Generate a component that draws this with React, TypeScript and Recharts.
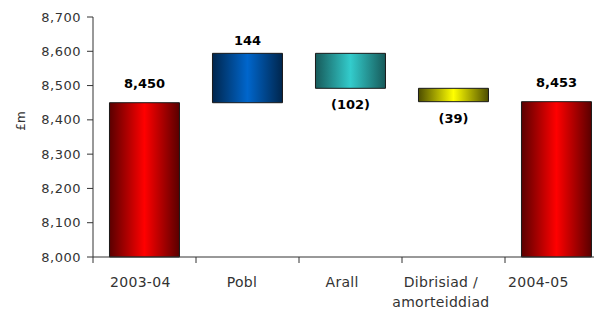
import { Bar, BarChart, Cell, LabelList, XAxis, YAxis } from "recharts";

const categories = ["2003-04", "Pobl", "Arall", "Dibrisiad /\namorteiddiad", "2004-05"];
const steps = [8450, 144, -102, -39, 8453];
const isTotal = [true, false, false, false, true];
const yTicks = [8000, 8100, 8200, 8300, 8400, 8500, 8600, 8700];
const gradients = [
  { id: "gRed", edge: "#5a0000", mid: "#ff0000" },
  { id: "gBlue", edge: "#00264d", mid: "#0066cc" },
  { id: "gCyan", edge: "#175a5a", mid: "#33cccc" },
  { id: "gYellow", edge: "#4d4d00", mid: "#ffff00" },
];
const barFill = ["gRed", "gBlue", "gCyan", "gYellow", "gRed"];

const Y_MIN = yTicks[0];
const FONT = "'DejaVu Sans', sans-serif";

const CHART_W = 602;
const MARGIN = { top: 9, right: 2, bottom: 7, left: 4 };
const Y_AXIS_W = 81;
const BAND = (CHART_W - MARGIN.left - MARGIN.right - Y_AXIS_W) / categories.length;

const fmt = (v: number) => {
  const s = Math.abs(v).toLocaleString("en-GB");
  return v < 0 ? `(${s})` : s;
};

let running = 0;
const rows = categories.map((name, i) => {
  const v = steps[i];
  let range: [number, number];
  if (isTotal[i]) {
    range = [Y_MIN, v];
    running = v;
  } else {
    const next = running + v;
    range = [Math.min(running, next), Math.max(running, next)];
    running = next;
  }
  return { name, range, label: fmt(v), neg: v < 0, total: isTotal[i] };
});

function CategoryTick(props: any) {
  const { x, y, payload, index } = props;
  // the original squeezes labels slightly left toward the cut-off right edge
  const p = index + 0.5;
  const lx = x - (4 + 0.7 * p * p);
  const lines = String(payload.value).split("\n");
  const bx = x - BAND / 2;
  return (
    <g>
      <line x1={bx} x2={bx} y1={y} y2={y + 6} stroke="#333" />
      <text x={lx} y={y + 30} textAnchor="middle" fontFamily={FONT} fontSize={14} letterSpacing={0.3} fill="#333">
        {lines.map((l, k) => (
          <tspan key={k} x={lx} dy={k === 0 ? 0 : 20}>
            {l}
          </tspan>
        ))}
      </text>
    </g>
  );
}

function ValueLabel(props: any) {
  const { x, y, width, height, value, index } = props;
  const r = rows[index];
  const ty = r.neg ? y + height + 21 : y - (r.total ? 15 : 8);
  return (
    <text x={x + width / 2} y={ty} textAnchor="middle" fontFamily={FONT} fontWeight="bold" fontSize={13} fill="#000">
      {value}
    </text>
  );
}

export default function App() {
  return (
    <div style={{ width: 594, height: 306, overflow: "hidden" }}>
      <BarChart width={CHART_W} height={306} data={rows} margin={MARGIN} barCategoryGap="16%">
        <defs>
          {gradients.map((g) => (
            <linearGradient key={g.id} id={g.id} x1="0" y1="0" x2="1" y2="0">
              <stop offset="0%" stopColor={g.edge} />
              <stop offset="50%" stopColor={g.mid} />
              <stop offset="100%" stopColor={g.edge} />
            </linearGradient>
          ))}
        </defs>
        <XAxis
          dataKey="name"
          interval={0}
          height={50}
          tickLine={false}
          tickSize={0}
          tickMargin={0}
          axisLine={{ stroke: "#333" }}
          tick={<CategoryTick />}
        />
        <YAxis
          domain={[Y_MIN, yTicks[yTicks.length - 1]]}
          ticks={yTicks}
          interval={0}
          width={Y_AXIS_W}
          tickSize={6}
          tickMargin={6}
          axisLine={{ stroke: "#333" }}
          tickLine={{ stroke: "#333" }}
          tick={{ fontFamily: FONT, fontSize: 13, fill: "#333", letterSpacing: 0.5 }}
          tickFormatter={(v: number) => v.toLocaleString("en-GB")}
          label={{
            value: "£m",
            content: ({ viewBox }: any) => {
              const lx = viewBox.x + 9;
              const ly = viewBox.y + viewBox.height / 2 - 16;
              return (
                <text
                  x={lx}
                  y={ly}
                  transform={`rotate(-90 ${lx} ${ly})`}
                  textAnchor="middle"
                  dominantBaseline="central"
                  fontFamily={FONT}
                  fontSize={12}
                  fill="#333"
                >
                  £m
                </text>
              );
            },
          }}
        />
        <Bar dataKey="range" stroke="#1a1a1a" strokeWidth={1} isAnimationActive={false}>
          {rows.map((r, i) => (
            <Cell key={r.name} fill={`url(#${barFill[i]})`} />
          ))}
          <LabelList dataKey="label" content={<ValueLabel />} />
        </Bar>
      </BarChart>
    </div>
  );
}
